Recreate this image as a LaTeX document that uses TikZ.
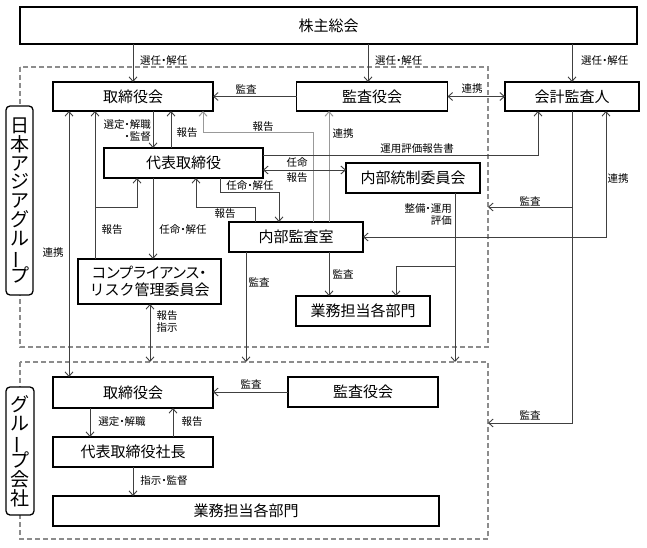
\documentclass[tikz,border=0pt]{standalone}
\usepackage{fontspec}
\usepackage{graphicx}
\setmainfont{Noto Sans CJK JP}
\newfontfamily\paltfont[RawFeature=+palt]{Noto Sans CJK JP}
\usetikzlibrary{arrows.meta}
\newcommand\vchr[1]{\hbox to 20pt{\hss#1\hss}}
\newcommand\vbar{\vchr{\rotatebox[origin=c]{90}{ー}}}
\tikzset{
  box/.style={draw=black, line width=1.3pt, fill=white, inner sep=0pt, outer sep=0pt,
    font=\fontsize{15}{17.5}\selectfont, align=center},
  lab/.style={font=\paltfont\fontsize{10.5}{11.5}\selectfont, inner sep=0pt, align=center},
  con/.style={draw=black!75, line width=0.9pt},
  gcon/.style={draw=black!40, line width=1pt},
  region/.style={draw=black!45, line width=1.2pt, dash pattern=on 5pt off 3pt},
  tagbox/.style={draw=black, line width=1.3pt, rounded corners=4pt, fill=white, inner sep=0pt,
    outer sep=0pt, font=\fontsize{19}{18.75}\selectfont},
}
\begin{document}
\begin{tikzpicture}[x=1pt,y=-1pt,>={Straight Barb[length=4.5pt,width=8pt]}]
\fill[white] (0,0) rectangle (647,548);
\useasboundingbox (0,0) rectangle (647,548);

% regions
\draw[region] (20,67) rectangle (488,347);
\draw[region] (20,362) rectangle (488,539);
\node[tagbox, minimum width=27, minimum height=189] (tagA) at (19.5,200.5)
  {\vbox{\baselineskip=18.75pt\lineskiplimit=-30pt
   \vchr{日}\vchr{本}\vchr{ア}\vchr{ジ}\vchr{ア}\vchr{グ}\vchr{ル}\vbar\vchr{プ}}};
\node[tagbox, minimum width=28, minimum height=128] (tagB) at (20,451)
  {\vbox{\baselineskip=18.75pt\lineskiplimit=-30pt
   \vchr{グ}\vchr{ル}\vbar\vchr{プ}\vchr{会}\vchr{社}}};

% boxes
\node[box, minimum width=617, minimum height=37] (kabu) at (328.5,25.5) {株主総会};
\node[box, minimum width=160, minimum height=29] (tr1) at (133,96.5) {取締役会};
\node[box, minimum width=151, minimum height=29] (kan1) at (372,96.5) {監査役会};
\node[box, minimum width=134, minimum height=29] (kai) at (572,96.5) {会計監査人};
\node[box, minimum width=159, minimum height=30] (dai) at (183.5,163) {代表取締役};
\node[box, minimum width=134, minimum height=30] (nt) at (413,178) {内部統制委員会};
\node[box, minimum width=134, minimum height=30] (nb) at (296,237) {内部監査室};
\node[box, minimum width=143, minimum height=45] (comp) at (149.5,281.5)
  {{\paltfont コンプライアンス・}\\リスク管理委員会};
\node[box, minimum width=134, minimum height=30] (gy1) at (363,311) {業務担当各部門};
\node[box, minimum width=160, minimum height=31] (tr2) at (133,392.5) {取締役会};
\node[box, minimum width=150, minimum height=30] (kan2) at (363,392) {監査役会};
\node[box, minimum width=160, minimum height=30] (sha) at (133,452) {代表取締役社長};
\node[box, minimum width=386, minimum height=30] (gy2) at (246,511) {業務担当各部門};

% free ends on the region borders
\coordinate (r2a) at (246,362);
\coordinate (r2b) at (455,362);
\coordinate (r2c) at (150,362);
\coordinate (r1e) at (488,207);
\coordinate (r2e) at (488,423);

% from 株主総会
\draw[con,->] (kabu.south -| tr1.north) -- (tr1.north);
\draw[con,->] (kabu.south -| 368,0) -- (kan1.north -| 368,0);
\draw[con,->] (kabu.south -| kai.north) -- (kai.north);
\node[lab, anchor=west] (l1) at (140,61) {選任・解任};
\node[lab, anchor=west] (l2) at (375,61) {選任・解任};
\node[lab, anchor=west] (l3) at (581,61) {選任・解任};

% top row
\draw[con,->] (kan1.west) -- (tr1.east);
\node[lab] (l4) at (246,89) {監査};
\draw[con,<->] (kan1.east) -- (kai.west);
\node[lab] (l5) at (472,89) {連携};

% 取締役会 <-> group 取締役会
\draw[con,<->] (tr1.south -| 69,0) -- (tr2.north -| 69,0);
\node[lab] (l6) at (53,253) {連携};

% compliance reports
\coordinate (j1) at (95,207);
\draw[con,->] (comp.north -| 95,0) -- (tr1.south -| 95,0);
\draw[con,->] (j1) -| (dai.south -| 137,0);
\node[lab] (l7) at (112,230) {報告};

% 取締役会 -> 代表取締役
\draw[con,->] (tr1.south -| 153,0) -- (dai.north -| 153,0);
\node[lab, anchor=east, align=right] (l8) at (151,130.5) {選定・解職\\・監督};
\draw[con,->] (dai.north -| 171,0) -- (tr1.south -| 171,0);
\node[lab] (l9) at (187,133) {報告};

% 内部監査室 -> 取締役会 (grey)
\draw[gcon,->] (nb.north -| 313,0) |- (203,133) -- (tr1.south -| 203,0);
\node[lab] (l10) at (263,127) {報告};
\draw[gcon,->] (nb.north -| 329,0) -- (kan1.south -| 329,0);
\node[lab] (l11) at (343,134) {連携};

% 代表取締役 -> compliance
\draw[con,->] (dai.south -| 153,0) -- (comp.north -| 153,0);
\node[lab] (l12) at (183,230) {任命・解任};

% 内部監査室 <-> 代表取締役
\draw[con,->] (nb.north -| 255,0) |- (196,207) -- (dai.south -| 196,0);
\node[lab] (l13) at (225,214) {報告};
\draw[con,->] (dai.south -| 220,0) |- (279,192) -- (nb.north -| 279,0);
\node[lab] (l14) at (250,186) {任命・解任};

% 代表取締役 <-> 内部統制委員会
\draw[con,<->] (dai.east |- 0,170) -- (nt.west |- 0,170);
\node[lab] (l15) at (297,162.5) {任命};
\node[lab] (l16) at (297,178) {報告};

% 運用評価報告書
\draw[con,->] (dai.east |- 0,155) -| (kai.south -| 538,0);
\node[lab] (l17) at (417,148.5) {運用評価報告書};

% 内部統制委員会 down
\draw[con,->] (nt.south -| 455,0) -- (r2b);
\draw[con,->] (455,266) -| (gy1.north -| 396,0);
\node[lab, anchor=east, align=right] (l18) at (452,214.5) {整備・運用\\評価};

% 内部監査室 down
\draw[con,->] (nb.south -| 329,0) -- (gy1.north -| 329,0);
\node[lab] (l19) at (343,274) {監査};
\draw[con,->] (nb.south -| 246,0) -- (r2a);
\node[lab] (l20) at (259,282) {監査};

% 会計監査人
\draw[con,->] (kai.south) |- (r2e);
\draw[con,->] (572,207) -- (r1e);
\node[lab] (l21) at (530,201) {監査};
\node[lab] (l22) at (530,415) {監査};
\draw[con,<->] (kai.south -| 606,0) |- (nb.east);
\node[lab] (l23) at (618,179) {連携};

% compliance <-> group
\draw[con,<->] (comp.south -| r2c) -- (r2c);
\node[lab] (l24) at (167,321.5) {報告\\指示};

% group company
\draw[con,->] (kan2.west) -- (tr2.east |- kan2.west);
\node[lab] (l25) at (251,384.5) {監査};
\draw[con,->] (tr2.south -| 90,0) -- (sha.north -| 90,0);
\node[lab] (l26) at (122,422) {選定・解職};
\draw[con,->] (sha.north -| 173,0) -- (tr2.south -| 173,0);
\node[lab] (l27) at (192,422) {報告};
\draw[con,->] (sha.south) -- (gy2.north -| sha.south);
\node[lab] (l28) at (164,481) {指示・監督};
\end{tikzpicture}
\end{document}
